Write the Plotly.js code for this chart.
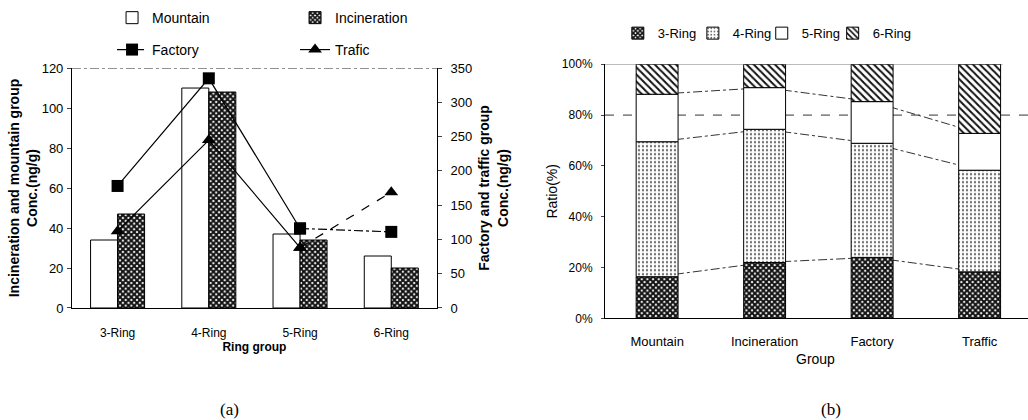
<!DOCTYPE html>
<html>
<head>
<meta charset="utf-8">
<script src="https://cdn.plot.ly/plotly-3.0.1.min.js"></script>
<style>
html,body{margin:0;padding:0;background:#fff;}
#chart{width:1028px;height:420px;}
</style>
</head>
<body>
<div id="chart"></div>
<script>
// ---- Data (a) ----
const ringLabels = ['3-Ring', '4-Ring', '5-Ring', '6-Ring'];
const mountain = [34, 110, 37, 26];
const incineration = [47, 108, 34, 20];
const factory = [178, 335, 116, 111];
const traffic = [112, 245, 88, 169];

// ---- Data (b) ----
const groups = ['Mountain', 'Incineration', 'Factory', 'Traffic'];
const ring3 = [16.4, 22.0, 24.0, 18.3];
const ring4 = [53.1, 52.4, 44.9, 40.0];
const ring5 = [18.7, 16.4, 16.4, 14.5];
const ring6 = [11.8, 9.2, 14.7, 27.2];
const ringNames = ['3-Ring', '4-Ring', '5-Ring', '6-Ring'];

const FONT = 'Liberation Sans, Arial, sans-serif';

const barW = 0.296;
const traces = [];

traces.push({
  type: 'bar', name: 'Mountain', x: ringLabels, y: mountain,
  xaxis: 'x', yaxis: 'y', width: barW, offset: -barW,
  marker: {color: 'white', line: {color: 'black', width: 1}},
  legend: 'legend'
});
traces.push({
  type: 'bar', name: 'Incineration', x: ringLabels, y: incineration,
  xaxis: 'x', yaxis: 'y', width: barW, offset: 0,
  marker: {color: 'white', line: {color: 'black', width: 1},
           pattern: {shape: 'x', fgcolor: '#111', bgcolor: 'white', size: 4, solidity: 0.75}},
  legend: 'legend2'
});
// Factory: solid part then dash-dot part
traces.push({
  type: 'scatter', mode: 'lines+markers', name: 'Factory',
  x: ringLabels.slice(0, 3), y: factory.slice(0, 3), xaxis: 'x', yaxis: 'y2',
  line: {color: 'black', width: 1.2}, marker: {symbol: 'square', size: 12, color: 'black'},
  showlegend: false
});
traces.push({
  type: 'scatter', mode: 'lines+markers', name: 'Factory',
  x: ringLabels.slice(2, 4), y: factory.slice(2, 4), xaxis: 'x', yaxis: 'y2',
  line: {color: 'black', width: 1.2, dash: 'dashdot'}, marker: {symbol: 'square', size: 12, color: 'black'},
  legend: 'legend3'
});
traces.push({
  type: 'scatter', mode: 'lines+markers', name: 'Trafic',
  x: ringLabels.slice(0, 3), y: traffic.slice(0, 3), xaxis: 'x', yaxis: 'y2',
  line: {color: 'black', width: 1.2}, marker: {symbol: 'triangle-up', size: 12, color: 'black'},
  legend: 'legend4'
});
traces.push({
  type: 'scatter', mode: 'lines+markers', name: 'Trafic',
  x: ringLabels.slice(2, 4), y: traffic.slice(2, 4), xaxis: 'x', yaxis: 'y2',
  line: {color: 'black', width: 1.2, dash: 'dash'}, marker: {symbol: 'triangle-up', size: 12, color: 'black'},
  showlegend: false
});

// (b) stacked bars, built from the ring arrays
const rings = [ring3, ring4, ring5, ring6];
const cum = [];
let base = groups.map(() => 0);
rings.forEach((r) => {
  cum.push(base.slice());
  base = base.map((b, i) => b + r[i]);
});
// connector lines (under bars)
for (let k = 1; k < 4; k++) {
  traces.push({
    type: 'scatter', mode: 'lines', x: groups, y: cum[k], xaxis: 'x3', yaxis: 'y3',
    line: {color: '#333', width: 1, dash: 'dashdot'}, showlegend: false, hoverinfo: 'skip'
  });
}
const patterns = [
  {shape: 'x', fgcolor: '#111', bgcolor: 'white', size: 4, solidity: 0.75},
  {shape: '.', fgcolor: '#666', bgcolor: 'white', size: 4, solidity: 0.25},
  {shape: '', bgcolor: 'white'},
  {shape: '\\', fgcolor: '#111', bgcolor: 'white', size: 5, solidity: 0.4}
];
const bW = 0.39;
rings.forEach((r, k) => {
  traces.push({
    type: 'bar', name: ringNames[k], x: groups, y: r, base: cum[k],
    xaxis: 'x4', yaxis: 'y4', width: bW, offset: -bW / 2,
    marker: {color: 'white', line: {color: 'black', width: 1}, pattern: patterns[k]},
    legend: 'legend' + (5 + k)
  });
});

function leg(x, y, size) {
  return {orientation: 'h', x: x, y: y, xanchor: 'left', yanchor: 'middle',
          font: {family: FONT, size: size}, bgcolor: 'rgba(0,0,0,0)'};
}

const layout = {
  width: 1028, height: 420,
  margin: {l: 0, r: 0, t: 0, b: 0},
  paper_bgcolor: 'white', plot_bgcolor: 'rgba(0,0,0,0)',
  barmode: 'overlay',
  font: {family: FONT, size: 12, color: 'black'},
  xaxis: {
    domain: [0.070, 0.425], anchor: 'y', type: 'category', range: [-0.5, 3.5],
    showline: true, linecolor: 'black', linewidth: 1, ticks: '', showgrid: false,
    tickfont: {family: FONT, size: 12}, ticklabelstandoff: 14,
    title: {text: '<b>Ring group</b>', font: {family: FONT, size: 12}, standoff: 0}
  },
  yaxis: {
    domain: [0.2667, 0.838], anchor: 'x', range: [0, 120], dtick: 20,
    showline: true, linecolor: 'black', linewidth: 1, ticks: 'outside', ticklen: 4,
    showgrid: false, zeroline: false, tickfont: {family: FONT, size: 13}, ticklabelstandoff: 1,
    title: {text: '<b>Incineration and mountain group<br>Conc.(ng/g)</b>', font: {family: FONT, size: 14}, standoff: 0}
  },
  yaxis2: {
    overlaying: 'y', side: 'right', anchor: 'x', range: [0, 350], dtick: 50,
    showline: true, linecolor: 'black', linewidth: 1, ticks: 'outside', ticklen: 4,
    showgrid: false, zeroline: false, tickfont: {family: FONT, size: 13}, ticklabelstandoff: 6,
    title: {text: '<b>Factory and traffic group<br>Conc.(ng/g)</b>', font: {family: FONT, size: 14}, standoff: 8}
  },
  xaxis3: {
    domain: [0.5885, 1.0], anchor: 'y3', type: 'category', range: [-0.485, 3.45],
    showline: true, linecolor: 'black', linewidth: 1, ticks: '', showgrid: false,
    tickfont: {family: FONT, size: 13}, ticklabelstandoff: 11
  },
  yaxis3: {
    domain: [0.242, 0.847], anchor: 'x3', range: [0, 100], dtick: 20, ticksuffix: '%',
    showline: true, linecolor: 'black', linewidth: 1, ticks: 'outside', ticklen: 3,
    showgrid: false, zeroline: false, tickfont: {family: FONT, size: 12}, ticklabelstandoff: 6,
    title: {text: 'Ratio(%)', font: {family: FONT, size: 14}, standoff: 0}
  },
  xaxis4: {overlaying: 'x3', anchor: 'y4', type: 'category', range: [-0.485, 3.45], visible: false},
  yaxis4: {overlaying: 'y3', anchor: 'x4', range: [0, 100], visible: false},
  legend: leg(0.109, 0.957, 14),
  legend2: leg(0.287, 0.957, 14),
  legend3: leg(0.109, 0.881, 14),
  legend4: leg(0.287, 0.881, 14),
  legend5: leg(0.601, 0.921, 13),
  legend6: leg(0.674, 0.921, 13),
  legend7: leg(0.741, 0.921, 13),
  legend8: leg(0.810, 0.921, 13),
  shapes: [
    {type: 'line', xref: 'x domain', x0: 0, x1: 1, yref: 'y', y0: 120, y1: 120,
     line: {color: '#333', width: 1, dash: 'dashdot'}},
    {type: 'line', xref: 'x3 domain', x0: 0, x1: 1, yref: 'y3', y0: 80, y1: 80, layer: 'below',
     line: {color: '#333', width: 1, dash: 'dash'}},
    {type: 'line', xref: 'x3 domain', x0: 0, x1: 0.94, yref: 'y3', y0: 100, y1: 100, layer: 'below',
     line: {color: '#888', width: 1}}
  ],
  annotations: [
    {text: 'Group', xref: 'paper', yref: 'paper', x: 0.793, y: 0.145, xanchor: 'center', yanchor: 'middle',
     showarrow: false, font: {family: FONT, size: 14}},
    {text: '(a)', xref: 'paper', yref: 'paper', x: 0.223, y: 0.026, xanchor: 'center', yanchor: 'middle',
     showarrow: false, font: {family: 'Liberation Serif, Times New Roman, serif', size: 17}},
    {text: '(b)', xref: 'paper', yref: 'paper', x: 0.808, y: 0.026, xanchor: 'center', yanchor: 'middle',
     showarrow: false, font: {family: 'Liberation Serif, Times New Roman, serif', size: 17}}
  ]
};

Plotly.newPlot('chart', traces, layout, {displayModeBar: false, staticPlot: true});
</script>
</body>
</html>
